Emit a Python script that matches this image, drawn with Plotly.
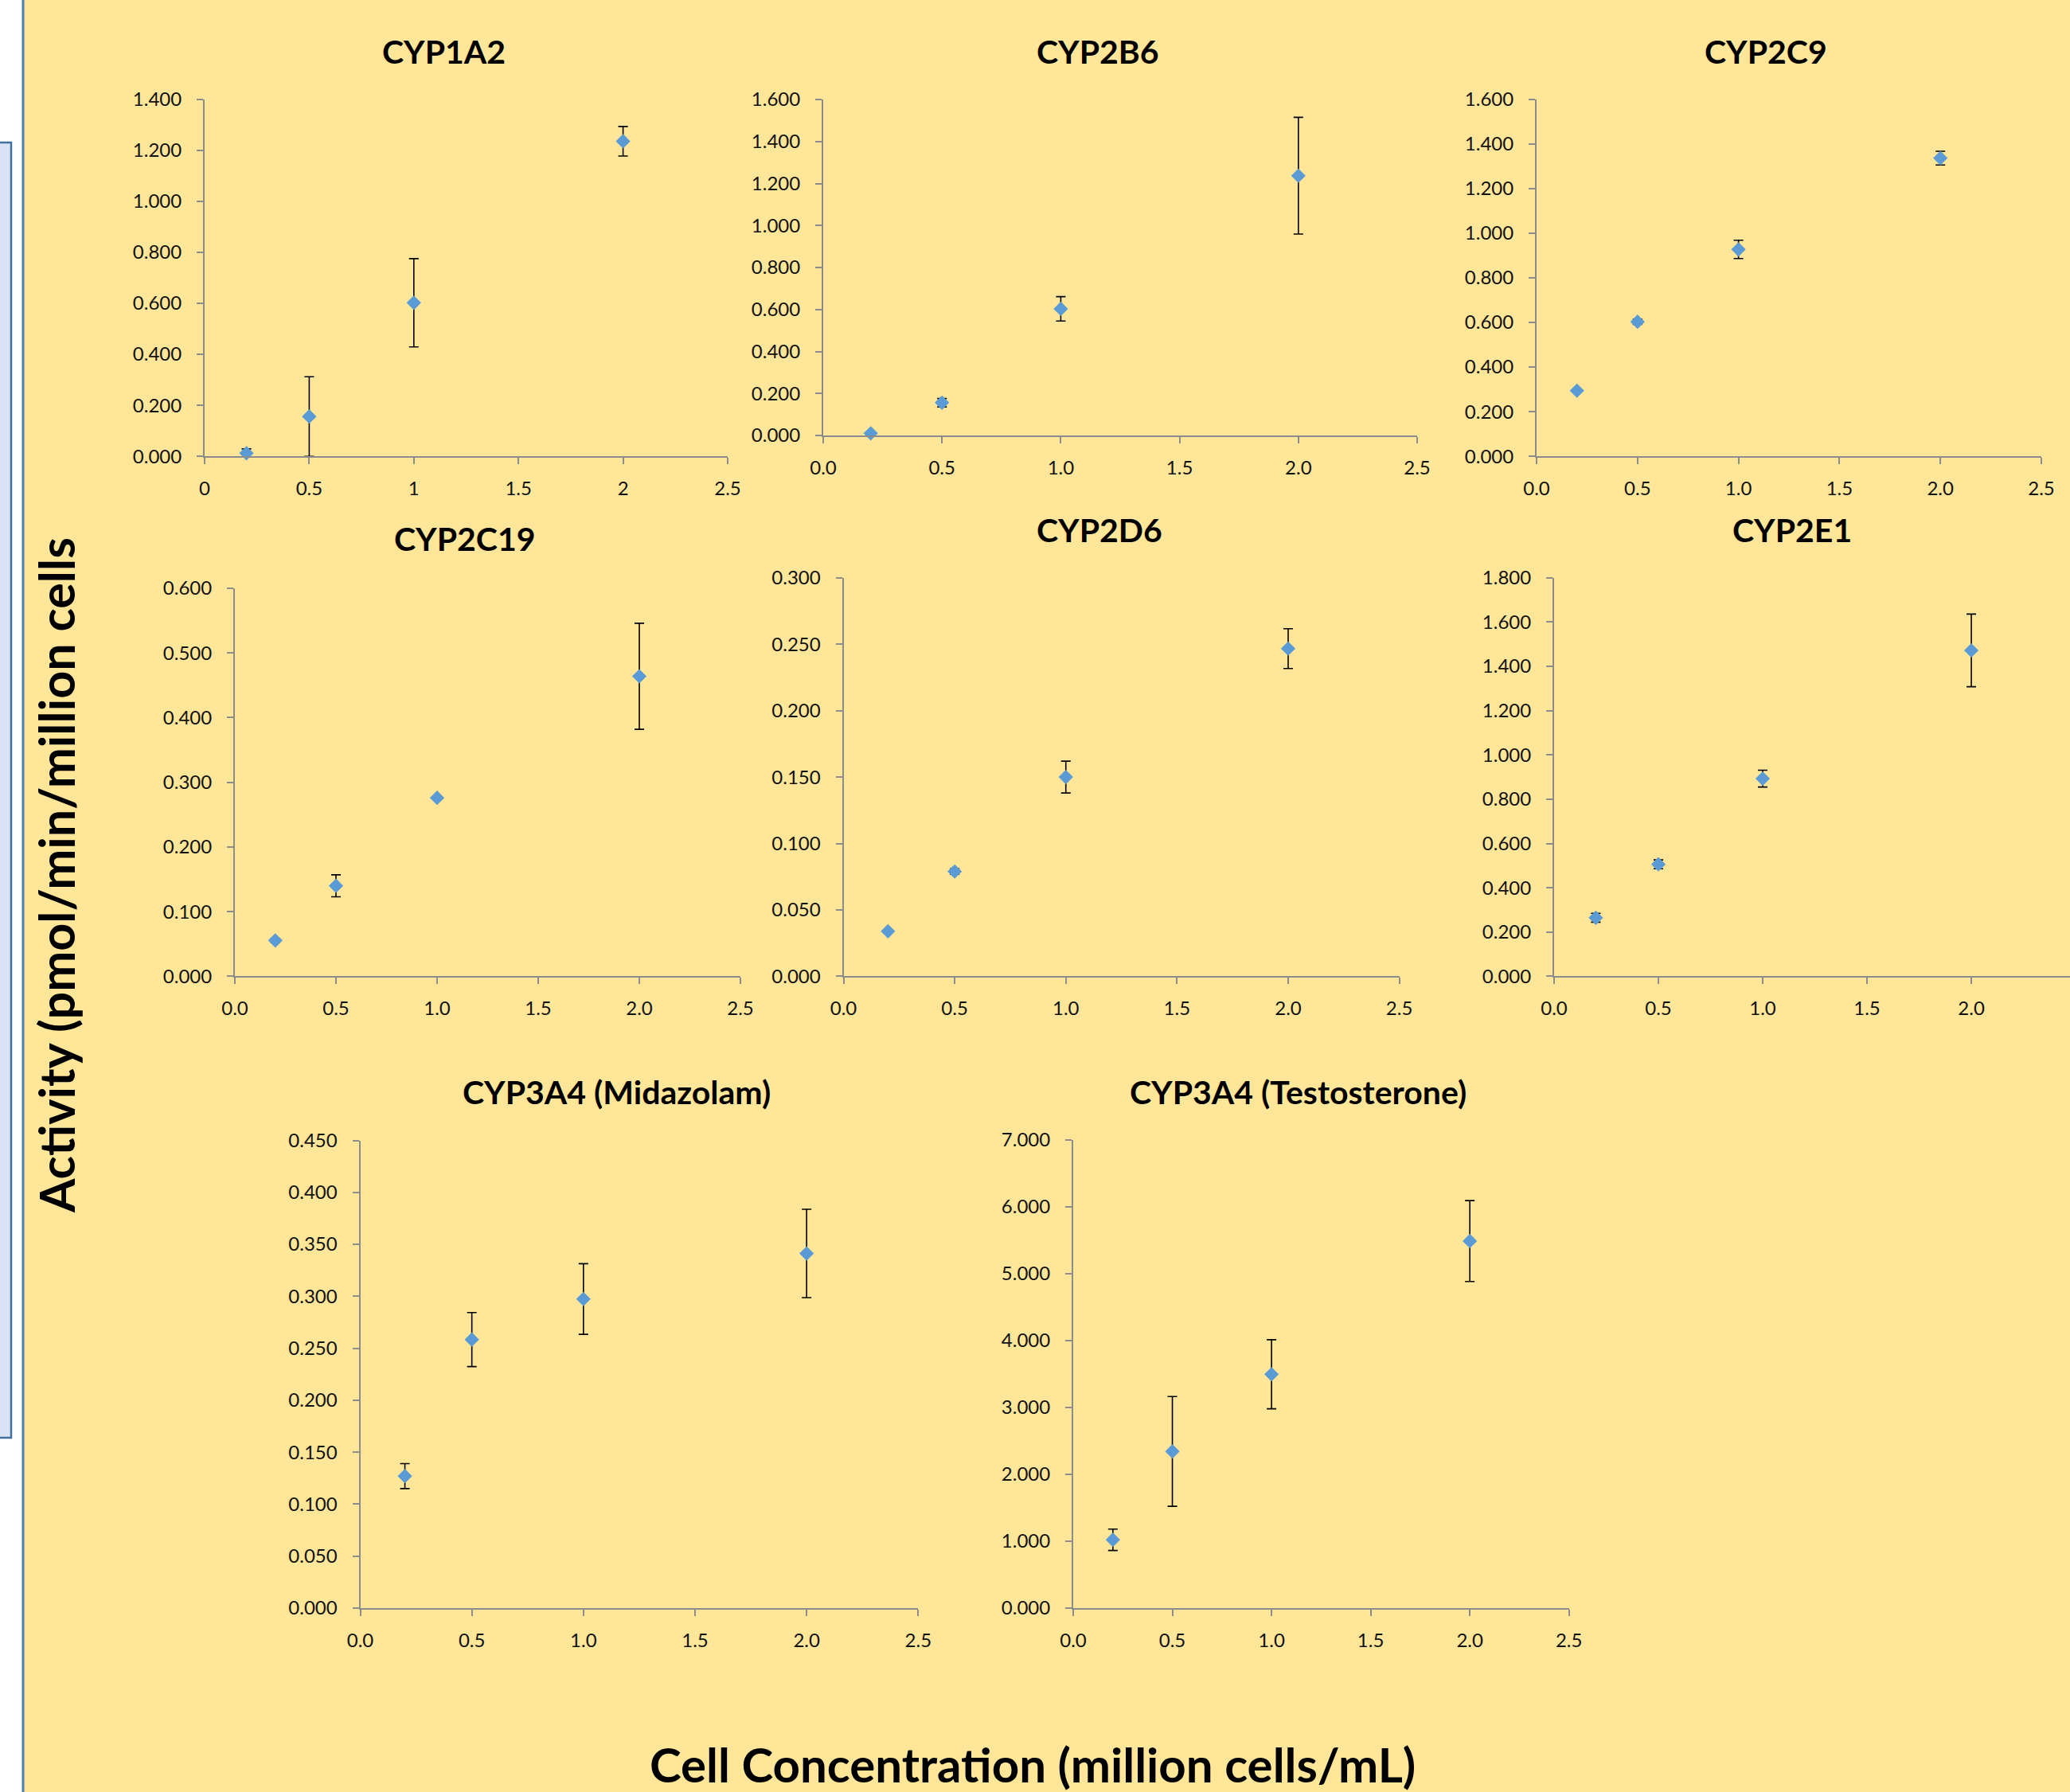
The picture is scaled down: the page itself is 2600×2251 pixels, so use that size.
import plotly.graph_objects as go

W, H = 2600, 2251

# ---------------- data ----------------
conc = [0.2, 0.5, 1.0, 2.0]

titles = ["CYP1A2", "CYP2B6", "CYP2C9", "CYP2C19", "CYP2D6", "CYP2E1",
          "CYP3A4 (Midazolam)", "CYP3A4 (Testosterone)"]

cyp1a2_mean = [0.012, 0.156, 0.602, 1.235]
cyp1a2_err = [0.017, 0.156, 0.173, 0.058]
cyp2b6_mean = [0.010, 0.156, 0.603, 1.237]
cyp2b6_err = [0.004, 0.020, 0.058, 0.278]
cyp2c9_mean = [0.294, 0.603, 0.927, 1.336]
cyp2c9_err = [0.004, 0.012, 0.041, 0.031]
cyp2c19_mean = [0.0555, 0.140, 0.276, 0.464]
cyp2c19_err = [0.003, 0.017, 0.002, 0.082]
cyp2d6_mean = [0.0339, 0.0789, 0.150, 0.2467]
cyp2d6_err = [0.0008, 0.002, 0.012, 0.015]
cyp2e1_mean = [0.2645, 0.506, 0.893, 1.472]
cyp2e1_err = [0.020, 0.020, 0.038, 0.164]
cyp3a4_mdz_mean = [0.127, 0.2584, 0.2974, 0.3412]
cyp3a4_mdz_err = [0.012, 0.026, 0.034, 0.0425]
cyp3a4_tst_mean = [1.021, 2.341, 3.494, 5.484]
cyp3a4_tst_err = [0.16, 0.82, 0.516, 0.605]

means = [cyp1a2_mean, cyp2b6_mean, cyp2c9_mean, cyp2c19_mean,
         cyp2d6_mean, cyp2e1_mean, cyp3a4_mdz_mean, cyp3a4_tst_mean]
errs = [cyp1a2_err, cyp2b6_err, cyp2c9_err, cyp2c19_err,
        cyp2d6_err, cyp2e1_err, cyp3a4_mdz_err, cyp3a4_tst_err]

y_max = [1.4, 1.6, 1.6, 0.6, 0.3, 1.8, 0.45, 7.0]
y_step = [0.2, 0.2, 0.2, 0.1, 0.05, 0.2, 0.05, 1.0]
x_max = [2.5, 2.5, 2.5, 2.5, 2.5, 2.473, 2.5, 2.5]
x_fmt = ["", ".1f", ".1f", ".1f", ".1f", ".1f", ".1f", ".1f"]

x_title = "Cell Concentration (million cells/mL)"
y_title = "Activity (pmol/min/million cells"

# ---------------- layout geometry (pixels) ----------------
boxes = [  # x0, x1, ytop, ybottom
    (257, 914, 124.6, 573.2),
    (1034, 1780, 125, 547),
    (1930, 2564, 124.6, 573.2),
    (295, 930, 739, 1226.4),
    (1059.5, 1757.6, 725.8, 1226.4),
    (1952, 2600, 725.8, 1226.4),
    (452.5, 1153.3, 1432.5, 2020),
    (1348, 1970.7, 1431.5, 2020),
]
title_pos = [(557, 64), (1379, 65), (2218, 65), (584, 677), (1381, 665),
             (2251, 665), (774, 1371), (1630, 1371)]

BG = "#FFE699"
AXC = "#8C8C8C"
FONT = "Lato"

fig = go.Figure()
layout = dict(
    width=W, height=H, margin=dict(l=0, r=0, t=0, b=0, pad=0), autosize=False,
    paper_bgcolor=BG, plot_bgcolor="rgba(0,0,0,0)",
    showlegend=False, font=dict(family=FONT, color="#111111", size=24),
)

annotations = []
for i in range(8):
    n = i + 1
    xs = "x" if n == 1 else f"x{n}"
    ys = "y" if n == 1 else f"y{n}"
    fig.add_trace(go.Scatter(
        x=conc, y=means[i], xaxis=xs, yaxis=ys, mode="markers",
        marker=dict(symbol="diamond", size=14, color="#5B9BD5", line=dict(width=0)),
        error_y=dict(type="data", array=errs[i], visible=True,
                     color="black", thickness=1.6, width=6),
        cliponaxis=False,
    ))
    x0, x1, yt, yb = boxes[i]
    xa = dict(domain=[x0 / W, x1 / W], range=[0, x_max[i]], anchor=ys,
              tickmode="linear", tick0=0, dtick=0.5, tickformat=x_fmt[i],
              showgrid=False, zeroline=False, showline=True, linecolor=AXC,
              linewidth=1.6, ticks="outside", ticklen=8, tickwidth=1.6,
              tickcolor=AXC, ticklabelstandoff=10, automargin=False,
              tickfont=dict(family=FONT, size=24, color="#111111"))
    ya = dict(domain=[1 - yb / H, 1 - yt / H], range=[0, y_max[i]], anchor=xs,
              tickmode="linear", tick0=0, dtick=y_step[i], tickformat=".3f",
              showgrid=False, zeroline=False, showline=True, linecolor=AXC,
              linewidth=2, ticks="outside", ticklen=8, tickwidth=1.6,
              tickcolor=AXC, ticklabelstandoff=14, automargin=False,
              tickfont=dict(family=FONT, size=24, color="#111111"))
    layout["xaxis" if n == 1 else f"xaxis{n}"] = xa
    layout["yaxis" if n == 1 else f"yaxis{n}"] = ya
    tx, ty = title_pos[i]
    annotations.append(dict(
        text=f"<b>{titles[i]}</b>", x=tx / W, y=1 - ty / H, xref="paper", yref="paper",
        xanchor="center", yanchor="middle", showarrow=False,
        font=dict(family=FONT, size=41, color="black")))

annotations.append(dict(
    text=f"<b>{x_title}</b>", x=1297 / W, y=1 - 2216 / H, xref="paper", yref="paper",
    xanchor="center", yanchor="middle", showarrow=False,
    font=dict(family=FONT, size=60, color="black")))
annotations.append(dict(
    text=f"<b>{y_title}</b>", x=70 / W, y=1 - 1100 / H, xref="paper", yref="paper",
    xanchor="center", yanchor="middle", showarrow=False, textangle=-90,
    font=dict(family=FONT, size=61, color="black")))

shapes = [
    dict(type="rect", xref="paper", yref="paper", x0=0, x1=28 / W, y0=0, y1=1,
         fillcolor="white", line=dict(width=0), layer="below"),
    dict(type="rect", xref="paper", yref="paper", x0=-5 / W, x1=14 / W,
         y0=1 - 1806 / H, y1=1 - 179 / H,
         fillcolor="#DAE3F3", line=dict(color="#41719C", width=2.5), layer="below"),
    dict(type="line", xref="paper", yref="paper", x0=29 / W, x1=29 / W, y0=0, y1=1,
         line=dict(color="#4F7DB3", width=3), layer="below"),
]

layout["annotations"] = annotations
layout["shapes"] = shapes
fig.update_layout(**layout)

fig.write_html("out.html", config={"displayModeBar": False, "responsive": False})

with open("out.html", "r", encoding="utf-8") as f:
    html = f.read()
html = html.replace("<head>", "<head><style>html,body{margin:0;padding:0;overflow:hidden;}</style>", 1)
html = html.replace("<body>", '<body style="margin:0;padding:0;overflow:hidden;">', 1)
with open("out.html", "w", encoding="utf-8") as f:
    f.write(html)
